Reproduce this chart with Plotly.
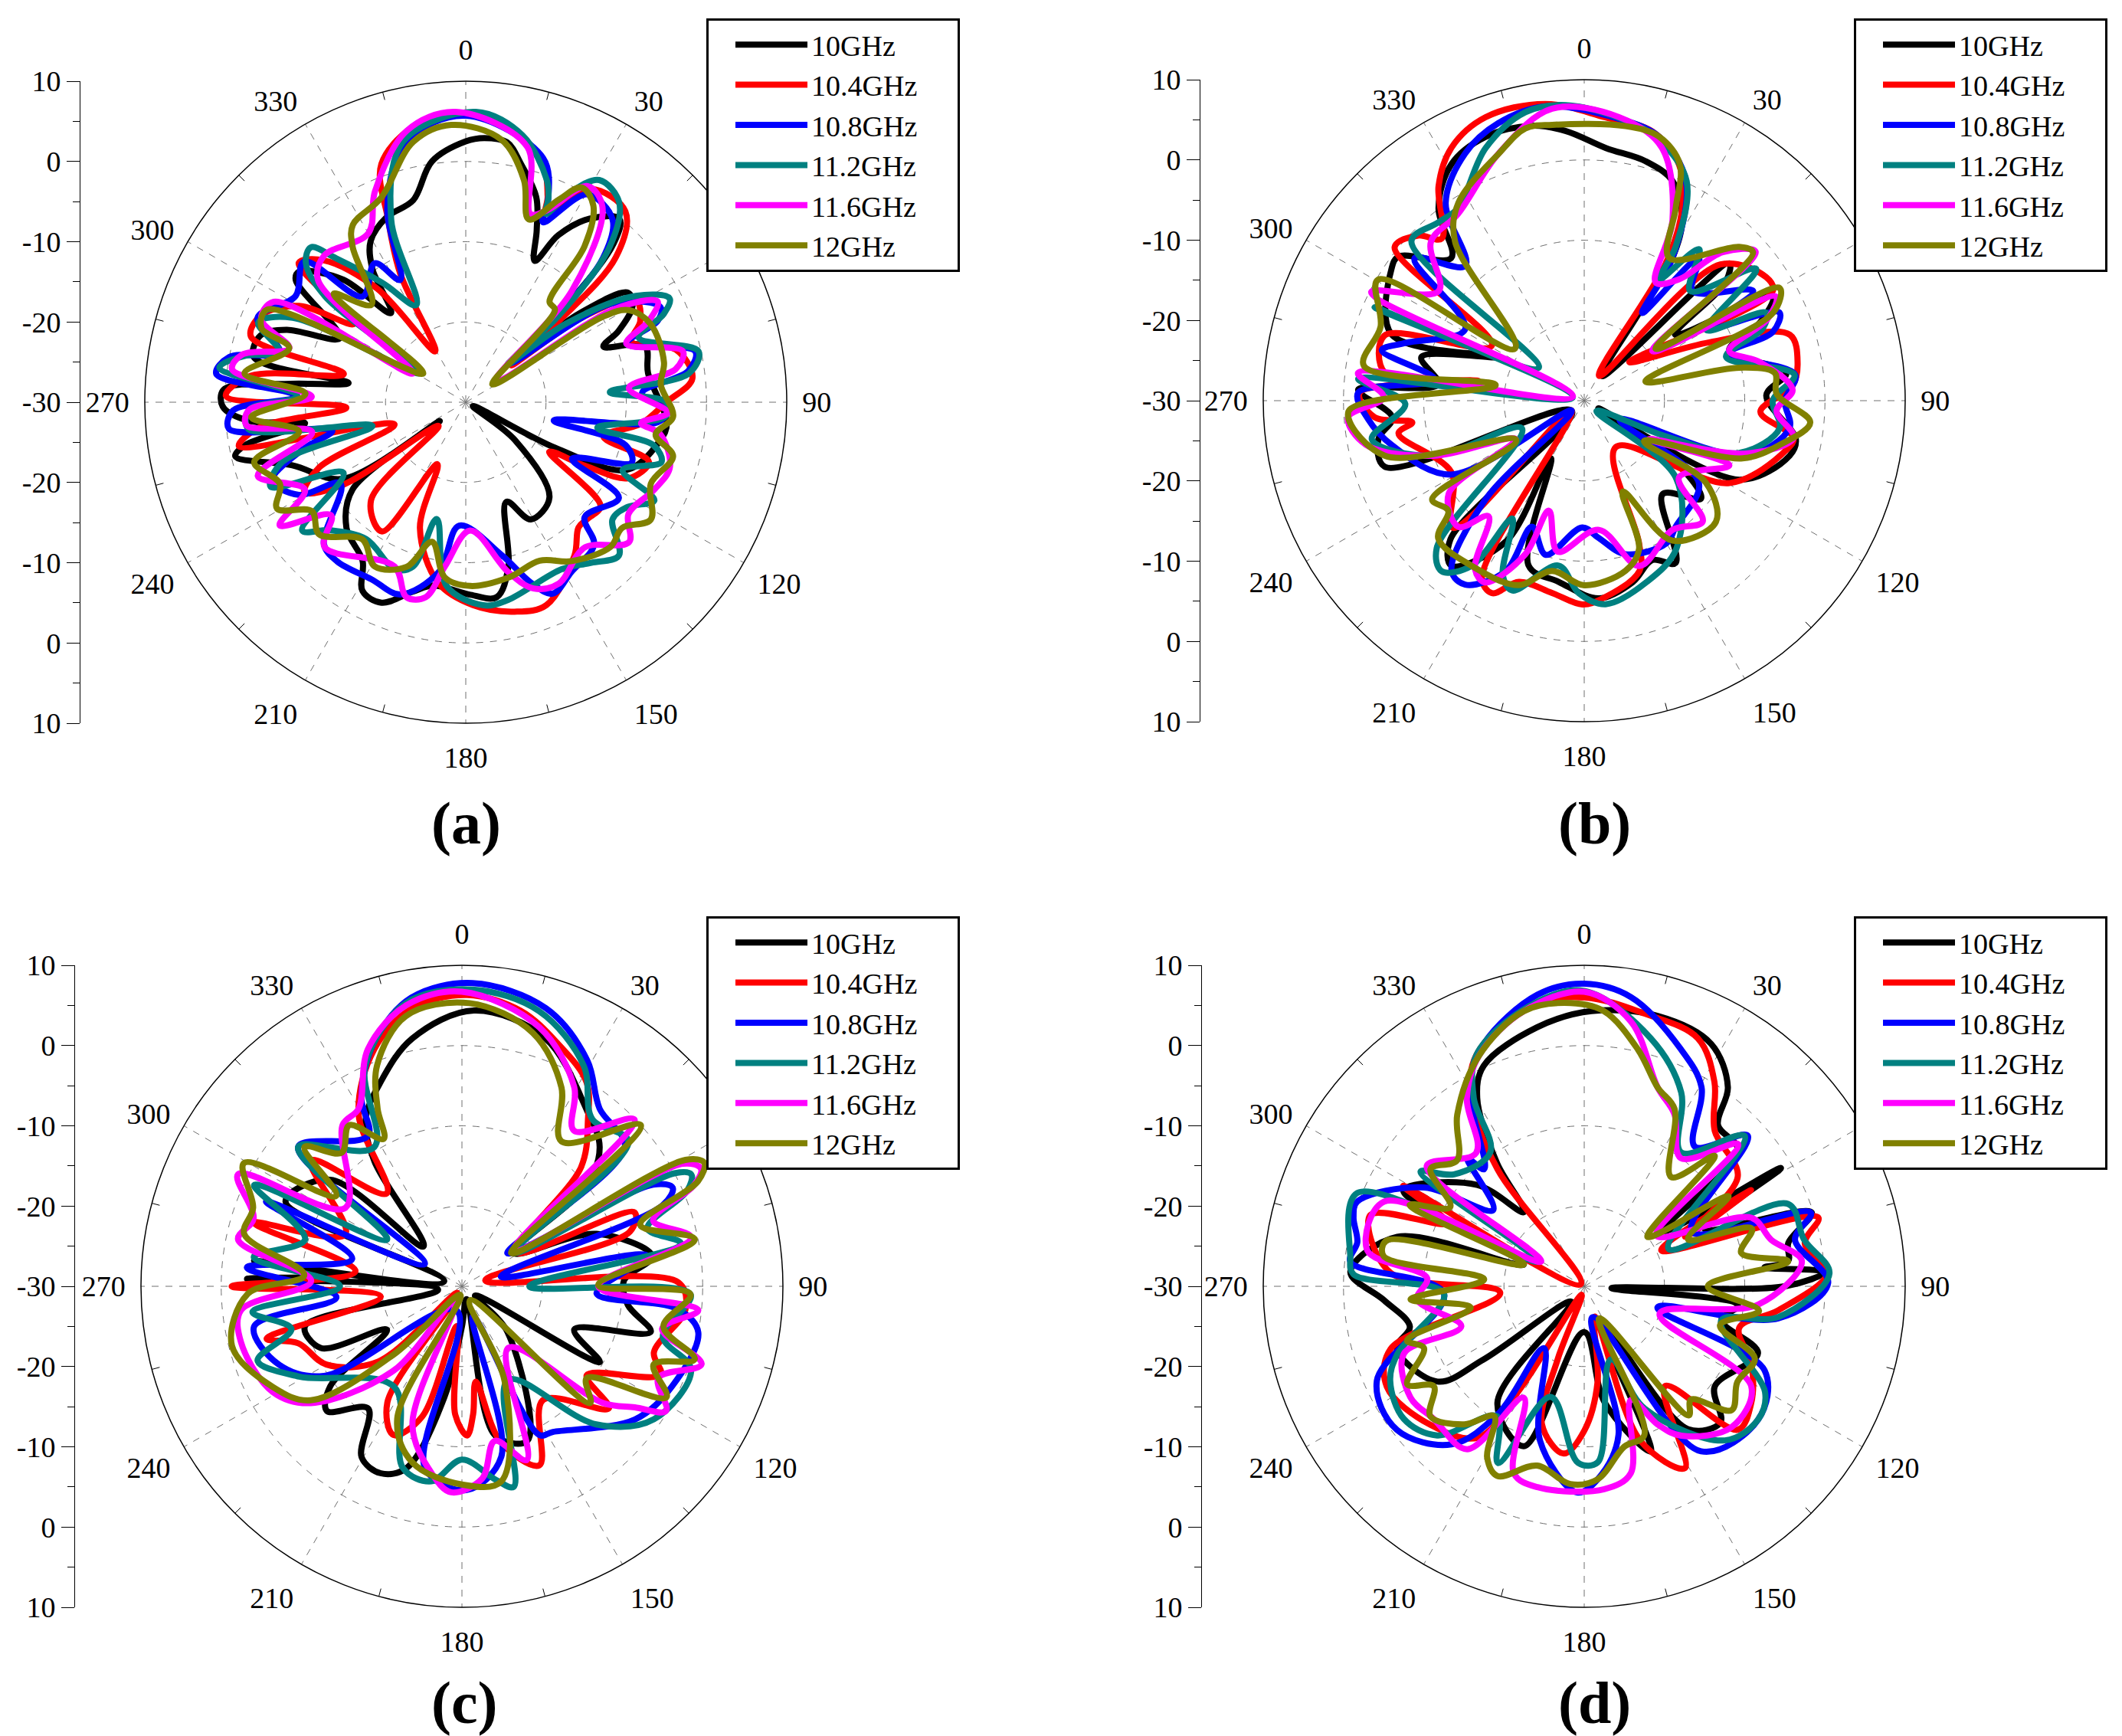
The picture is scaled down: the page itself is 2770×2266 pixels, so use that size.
import plotly.graph_objects as go

W, H = 2770, 2266
PAGE_MARGIN = 8
SERIES = ["10GHz", "10.4GHz", "10.8GHz", "11.2GHz", "11.6GHz", "12GHz"]
COLORS = ["#000000", "#FF0000", "#0000FF", "#008080", "#FF00FF", "#808000"]
ANGLE_TICKS = list(range(0, 360, 30))
ANGLE_MINOR = list(range(15, 360, 30))
RADIAL_GRID = [-20, -10, 0]
SCALE_VALUES = [-40, -30, -20, -10, 0, 10, 20, 30, 40]
SCALE_TEXT = ["10", "0", "-10", "-20", "-30", "-20", "-10", "0", "10"]

# (angle in degrees, gain in dB)
A_10 = [(4,3),(9,2.8),(13,.5),(19,-3),(22.4,-6.8),(26,-10.4),(29,-6.2),(34,-2.4),(40,-.2),(43,-3),(46,-12),(49,-21),(52,-12),(56,-5.6),(60,-6),(65,-9),(68,-11.5),(72.6,-6.6),(81,-7),(96,-4.8),(101,-5.3),(112.7,-8.2),(117,-17.5),(118.5,-29),(127.6,-22.3),(138.7,-14.2),(151,-13.3),(157.8,-16.6),(165.5,-8.8),(171,-5.4),(178.6,-6),(190,-6.8),(195.6,-5.5),(202.8,-2.9),(208.7,-3.2),(213,-6.4),(223.5,-8.4),(232.4,-12.2),(234,-26),(238,-12),(250,-7),(256.8,-.5),(259,-2),(262.6,-9.8),(265,-3),(269,.3),(273,.2),(276,-8),(279.3,-15.2),(282,-3),(288,-3.1),(292,-5.9),(297,-12.4),(305.7,-3.9),(308,-3.6),(315,-8.4),(320,-15.5),(325,-9.7),(329.4,-6.7),(337,-4.9),(345.4,-4),(352,.3),(360,2.5)]
A_104 = [(3,6),(17,1.8),(21.7,-2.4),(23,-4.4),(30.4,.8),(39.9,1),(46,-4),(49,-15),(51,-22.7),(54,-12),(58.7,-5.3),(65,-6),(70,-8),(76,-3),(84,-1.6),(90,-5),(97,-8),(104,-12.3),(108,-6),(115,-7.6),(118,-13),(120.7,-17.9),(127.6,-8.8),(134,-9),(138,-9),(144.6,-6.6),(158.3,-2.8),(166.9,-3.2),(178,-4.7),(188.6,-7.2),(200,-13.3),(204.6,-21.5),(213,-10.8),(224,-13),(229,-25.5),(236,-11.7),(240.8,-7),(246,-10),(252.8,-20.7),(259,-1.2),(263,-4),(267.4,-15.1),(271.5,-.1),(277,-3),(283,-14.4),(287,-2),(293,-2.3),(300,-6),(305,-13),(309.8,-2.9),(315,-5),(322,-12),(329,-22.6),(333,-12),(337,-5.2),(340.5,1.5),(350.6,5.3),(360,5.8)]
A_108 = [(0,5.7),(17.6,1.9),(22.3,-3),(23.2,-5.6),(30.3,0),(38.8,-.8),(43.6,-5.2),(46.5,-14),(49,-22.5),(56,-8),(64,-3),(67,-4),(70,-8.7),(77.5,-.7),(82,-2),(87,-8),(92.7,-4.9),(96,-6),(101.7,-18.8),(105,-9.4),(110,-8),(118,-15),(122,-7.5),(134,-9.4),(138,-6.1),(148,-5.1),(155.6,-3.8),(160,-6),(166.7,-10.4),(183,-14.6),(189,-8.6),(198.8,-4.7),(208,-5),(219,-4.5),(225,-5),(237,-11.4),(241,-6.2),(248,-4),(254,-9),(258,-13),(263.6,-.3),(268,-1),(272,-9),(276.5,1.3),(280.8,0),(285,-6),(292,-2),(302,-5),(311,-3.3),(315.7,-11.6),(326.8,-9.3),(331.8,-12.7),(338,-3.9),(347,3.3)]
A_112 = [(2,6.2),(12,4),(20,-.5),(22,-2.5),(23,-4.5),(26.7,-.6),(31,2.3),(37.5,1.4),(42.8,-3.6),(47,-14),(48,-23),(52,-14),(58,-5),(63,-1.5),(66,-3),(69.5,-7),(77.7,-.3),(82.7,-2),(86,-12),(90,-5),(94,-5),(101,-13.3),(102.9,-6),(107,-4.5),(113.4,-8.7),(117.5,-3.5),(123,-6),(128.6,-6.6),(135,-3),(142,-4.6),(150,-6),(168,-4.8),(175,-4.6),(186,-7),(194,-15),(197.8,-8.5),(203,-7.4),(216,-8.9),(226.5,-6.8),(231.9,-4.1),(240,-12.4),(246.6,-3.5),(252,-6),(255.8,-18),(263,-2.7),(268,-3),(272,-9),(278,1),(282,-2),(285,-6),(291,-2.3),(296,-6),(302,-23.2),(307,-8),(311,-3.6),(315,-2.7),(318,-5.9),(325,-11.8),(333,-16.4),(337.8,-5.4),(346.5,3.4)]
A_116 = [(358,6.2),(13.6,2.7),(19,-5.2),(23,-4),(29.4,.9),(35,-.3),(43.6,-10.8),(55,-25.5),(58,-8),(62.3,-3),(66,-5),(70,-8.7),(76.8,-2.2),(81,-3.5),(85,-9.6),(93,-4.8),(96.8,-8),(99.4,-5.4),(107.7,-3.3),(114.8,-4.1),(124.5,-5.4),(130.6,-3.2),(140.7,-6.6),(152.8,-4.6),(160,-5.3),(166,-8.2),(178,-14),(187.2,-9.4),(191.6,-5.2),(196.9,-4.6),(203.5,-7.7),(224.3,-4.8),(230,-8.1),(236.5,-2.2),(241.5,-7.2),(250.5,-2.5),(259,-10.5),(264,-2.5),(268,-3),(272,-10.8),(278,-.6),(282,-1.5),(287,-7),(292,-2.5),(297.6,-3),(298.5,-22.5),(309.6,-6.1),(316,-4.6),(330,-5.7),(336.7,-1.4),(347.7,4.6)]
A_12 = [(357,4.6),(7.8,3),(14.7,-1.4),(19,-5.9),(24.7,-2.2),(28.3,.4),(33,-.8),(37.3,-5.6),(39.8,-13.7),(44,-14),(56,-26),(58,-10),(60.5,-6.7),(67,-5),(78.6,-4.8),(84.8,-5.6),(94,-4.1),(99.7,-6),(104.6,-3.3),(113.8,-4.8),(122.4,-2.7),(128.8,-5),(135,-4.5),(146.3,-6.2),(155,-8.2),(166.4,-7.5),(178.6,-7.1),(186.8,-8),(193.6,-12.1),(199.8,-8.2),(209,-6.6),(217,-8.6),(228,-5.4),(234.7,-6.5),(240.6,-3),(246.3,-4.7),(254.2,-2.6),(260,-8.9),(266,-3.2),(273,-10),(277.4,-2.2),(287,-7),(290,-2.9),(295,-2.7),(304,-23.6),(309.4,-8.7),(316,-13.1),(324,-6),(327.5,-3.8),(337.6,-2.4),(348.6,3.1)]

B_10 = [(356,3.7),(4.9,1.6),(14.4,.8),(21.9,-.5),(28.4,-4.3),(31.7,-9.1),(32,-17.1),(36,-26.2),(46.6,-5.1),(50,-7),(54,-16),(61,-3.1),(66,-6),(71,-10.9),(82.2,-4.6),(88.3,-7.3),(100.3,-3.2),(105,-3.5),(117,-8.3),(119,-28),(125,-15),(130,-11),(140,-14.8),(150.6,-6.8),(156.9,-8.4),(165,-6.6),(175.7,-5.3),(188,-7.2),(198.6,-8.3),(210,-21.7),(209,-10),(218.8,-3.6),(224,-6),(230,-28),(251.7,-3.8),(259.4,-3.9),(265,-6),(272.8,-1.8),(276.4,-11.7),(285,-9),(297,-18),(289,-4.6),(304.4,-.9),(307.8,-.7),(317,-5.7),(322.9,.1),(330.7,3.8),(339.5,5.1),(349,4.9)]
B_104 = [(352.5,7.3),(4.3,5.4),(14.2,4.6),(21.9,1.7),(27,-3.1),(30.7,-10),(31,-26.4),(45,-6),(55.8,-2.6),(59.8,-2.8),(49.4,-22.6),(65,-12.8),(72.2,-3.1),(80,-3),(86,-4),(93.6,-8),(100,-3.5),(103.8,-4.1),(119.6,-9.2),(146,-23),(159,-10.9),(162,-7.7),(175,-5.2),(180.5,-4.6),(189.5,-5.7),(199.8,-6),(205.6,-3.4),(210,-4.5),(232,-28),(226,-7.2),(241.6,-11.2),(260,-6.5),(262.8,-8.4),(265.5,-3.8),(272,-2),(280.5,-16.6),(278,-4.9),(288,-3.8),(300.7,-16.6),(309,.4),(314.8,-.8),(318.7,-3.1),(325.8,2.3),(332.3,5.6),(340.8,7.4)]
B_108 = [(352.5,7),(5,5.6),(15.8,4.2),(24.8,.2),(31.7,-9),(33.5,-16.9),(38.8,-7.2),(44.7,-10.8),(57,-4.9),(59.6,-12.4),(65.7,-3.3),(70,-5),(72,-11),(83,-3.5),(90,-5),(97.6,-4.2),(108.7,-8.7),(118,-25),(125.7,-12.4),(144,-10.6),(150,-9.5),(165,-10.2),(174,-12.8),(180.9,-14.2),(194,-10.2),(202.5,-13),(204.8,-6.6),(212.9,-2.7),(217.9,-3.1),(225,-12.6),(232,-28),(241,-11),(257,-5.4),(265,-3),(272,-1.8),(278,-11.2),(284,-4),(287.9,-6.6),(301,-12.7),(310,-2.4),(318.6,-7.6),(325,.1),(334.3,4.2),(342.8,6.2)]
B_112 = [(356.4,6.9),(8.4,5.3),(16,3.8),(25,.2),(30.7,-7.7),(31.7,-12.3),(37.2,-6.3),(44,-11),(52.5,-3),(60,-12.4),(64.2,-4.8),(68,-6),(72.8,-11.5),(83,-3.6),(90,-6.5),(98,-5.4),(108.6,-9.6),(113.6,-18.9),(130,-28),(130,-15.1),(148,-8.3),(161,-6.1),(174,-4.5),(181.6,-6),(188.8,-9.2),(200.8,-4.7),(205,-6),(211.4,-12.8),(214.3,-5.1),(219.9,-2.3),(225,-4),(246,-21.5),(250,-9.9),(259.7,-3.1),(269,-7.7),(275.5,-1.7),(285,-28.5),(294,-1.4),(306,-23),(312.7,-.7),(320.8,-1.3),(326.8,-1.3),(338.7,3.8),(348.5,6.7)]
B_116 = [(353.7,6.6),(7,5.6),(17,3),(26,-4.9),(31.2,-12.8),(38,-10.8),(43,-4.7),(49,-1.7),(54,-19.5),(61.5,-2.8),(66,-5),(71,-10.9),(77.6,-7.6),(87,-4),(93,-6),(100,-3.5),(108,-8.7),(120.7,-20.6),(114,-10.2),(129,-14.8),(135.6,-8.9),(145.6,-10.5),(161.6,-8.3),(173.5,-13.8),(190,-10.9),(197.8,-15.6),(201,-9.5),(208.6,-4.2),(213,-5),(219.6,-11.3),(224.9,-7.8),(235.5,-9.5),(240.8,-20.2),(250,-9.9),(258.7,-2.2),(266,-.5),(271,-5),(277,-1.6),(290,-28.5),(297,-.2),(307,-7.3),(316,-2.5),(326,-1.9),(340.9,2.6)]
B_12 = [(353.4,4.6),(8.6,4.6),(15.8,4.2),(22,1.8),(25.4,-3.4),(30.8,-9.3),(45.2,-2.8),(48.7,-2),(54,-19),(60,-1.9),(65,-4),(72.6,-22),(78,-10.2),(81.7,-6),(88,-6),(95.5,-1.7),(102.7,-5),(110,-9),(124,-21),(124,-11.7),(132.6,-7.7),(147.8,-9.4),(157,-17.7),(159.7,-10.3),(166.3,-8.2),(180,-7),(190.7,-8.4),(199.6,-5.6),(214,-5.1),(226.7,-5),(231,-8.2),(237,-7.4),(240,-20.2),(254.6,-4.2),(267.4,-.6),(280,-18.8),(279,-2.2),(290,-3),(300.4,-.2),(307,-19.2),(321,-4.4),(327.5,-.8),(341,2.6),(347.8,4.7)]

C_10 = [(2.5,4.4),(18.6,2.6),(35,-3),(44.7,-5.6),(51,-10),(57.5,-22.3),(68.7,-12),(81,-6),(88,-9.8),(96.4,-9.2),(103.6,-5.8),(111,-15),(118.8,-10.4),(125,-28),(135,-22),(157,-9.1),(167.5,-11),(160,-28.3),(180,-25),(189,-16),(197,-6.3),(203.5,-4.6),(210.4,-5.3),(217.5,-10.8),(227.3,-7.1),(232.8,-9.4),(240,-19.2),(246.4,-10.8),(255.7,-9.8),(262,-27),(272,-3.2),(275,-14.3),(277,-3.9),(286,-27.7),(295.7,-5.6),(309,-8.9),(316,-23.1),(325,-11),(330,-6),(338.3,-2.6),(348.7,1.5)]
C_104 = [(1,6.3),(12,5.1),(21.6,2.5),(31.4,-.2),(37,-3.9),(45,-9),(58,-22),(66.8,-6.6),(72,-8),(76,-27),(89,-3),(96,-2),(109,-4.7),(114,-2.9),(125.5,-10.9),(129.7,-6.2),(144.6,-12.6),(156.6,-5.7),(166,-10),(171.7,-18),(175,-14),(178,-11.4),(183,-14),(187,-25),(197,-13),(204.7,-9.6),(212.7,-12.8),(214,-29),(228,-16),(240,-10.5),(250.8,-8.4),(255,-4.8),(262.8,-19.8),(270,-1.3),(278,-16.6),(287,-2.9),(294,-14.1),(309.8,-5.5),(321,-15.1),(329,-5),(339.7,1.5),(349.9,5.2)]
C_108 = [(2,7.8),(16.8,6.2),(29,2.2),(37.8,-2),(49.5,-3.3),(54,-23),(62,-3),(64.9,-1),(68,-3),(76,-25),(80.6,-6.6),(93,-13.2),(96,-3),(101,0),(115.4,-1),(127.6,-2.8),(148,-8.6),(152.5,-9.1),(160,-26),(167,-8.2),(178.8,-4.6),(191.5,-6.9),(192,-26.9),(237,-9.5),(246.8,-5.2),(259,-3.6),(265,-14.3),(275,-3.1),(284,-15.9),(293.4,-3.4),(301,-24.6),(310.4,-3.2),(328,-7.9),(331.9,-3.4),(340,2.2),(350,6.5)]
C_112 = [(2,7),(15.7,5.6),(28.9,1.4),(38,-3.6),(49,-2.5),(57,-22.3),(62,0),(64,1.8),(67,.5),(72.7,-5.8),(78.9,-2.2),(90,-21.6),(92,-1.5),(104,-4.2),(110,.4),(124.7,-.9),(135.8,-6),(154,-17),(165.5,-4.2),(170,-5.5),(180,-8.4),(188.9,-5.4),(198,-6.2),(214,-14.9),(241,-6.8),(250,-2.9),(256,-8.1),(263,-3.7),(270,-14.8),(278,-3.8),(286.6,-9.6),(296,-1.2),(302,-19),(310.4,-3.2),(327.8,-9.5),(336.3,0),(348.9,6)]
C_116 = [(0,6.7),(16.6,3.7),(29.4,-1.5),(35.8,-6.1),(46,-.1),(55,-22),(61,1.5),(63.8,3.2),(66.5,1.5),(71,-4.8),(78,-.8),(90,-13),(95.8,-.4),(102,-4.5),(108,1.4),(115,-3),(121.4,-.2),(125,-3.7),(129.6,-7.2),(143,-20.4),(159.5,-6.9),(168,-10.3),(174,-5.9),(183,-4.3),(189.2,-6.4),(199.7,-11.7),(205,-28),(219,-16.5),(232.3,-6.2),(240.8,-3),(255.7,-1.6),(263.8,-2.3),(272,-11.2),(281.8,-1.5),(288,-2.7),(296.6,1.2),(304,-12.5),(323.5,-5),(329.8,-4.4),(338.4,1.8),(348.8,5.7)]
C_12 = [(1.5,5.3),(15.6,2.8),(26.6,-2.3),(34.5,-8.1),(48,0),(56,-22.6),(60.5,2),(63,3.9),(66,2.2),(71,-6.5),(78.6,-.4),(89.5,-13),(92,-1.5),(101.3,-4.4),(107.4,.4),(112.2,-4.2),(118.5,-1),(126.3,-10.7),(132.3,-8.4),(150,-28),(155.8,-17),(168.6,-5.2),(180,-5.3),(195.7,-7.2),(206,-11.6),(190,-28.9),(225,-18),(233,-6.4),(242,-3.3),(255.5,-.4),(268,-3.3),(274,-10.3),(283.5,-2.1),(290.6,-2.2),(299.5,1.2),(305.7,-10.7),(311.5,-3.8),(318,-7.6),(325,-5.5),(332,-9.2),(334.6,-5.5),(339,-.5),(348.3,4.4)]

D_10 = [(1.5,4.3),(15.2,4.9),(27.6,4.1),(35.8,.6),(39.7,-3.9),(48.4,-4.4),(55,-18),(59,-1.4),(64.4,-13.4),(72,-.2),(78,-4),(83,-4.4),(84,-7.4),(86.6,0),(90,-5),(94,-26.6),(97,-10.7),(104,-12.4),(111,-6.8),(127.5,-9.5),(135,-6),(144,-8),(155,-25),(158,-7.8),(170,-15.3),(180,-24.3),(200.7,-8.7),(216.7,-11.9),(220,-27.5),(234,-14.5),(237,-8.2),(251.7,-5.4),(257,-7.7),(266,-5),(273.5,-.8),(284.8,-5.9),(290,-22),(297.9,-4.5),(313.4,-11.6),(320.9,-18.1),(324.7,-11.2),(330.4,-3),(335.5,.2),(349.7,2.8)]
D_104 = [(0,6),(12.5,4.8),(24.6,4),(32.5,.2),(40,-4.7),(54.5,-6.5),(63.8,-16),(60,-6),(65,-19.4),(73.6,.4),(79,-2),(86.7,.4),(97,-5.6),(105,-10),(115,-7),(125,-4.6),(133,-3.8),(141,-14),(151,-4.1),(160,-9.5),(161,-26),(172,-18),(180,-12),(187,-9),(197,-12),(200,-20.4),(197,-28.9),(212,-15),(215,-7),(228,-4.2),(243,-2.4),(252,-4.6),(265.6,-19.5),(274,-5.8),(288.4,-1.9),(294.7,-11.2),(299,-4.2),(300,-29.5),(323.5,-11.8),(329,-2.6),(335,1.8),(349,5.6)]
D_108 = [(0,7.7),(9.2,6.5),(22.2,1.9),(30.5,-1.2),(38.4,-7.8),(47.4,-2.3),(63,-15),(72,-.3),(77.5,-3.1),(89.2,.4),(99.4,-5.5),(106,-20.5),(115,-5.2),(127.4,-2.7),(144.7,-4.8),(165,-26),(167,-11),(176,-5.9),(182,-4.3),(196,-10),(213,-20.8),(214,-10.8),(220,-4.3),(232.5,-.6),(245.5,-1.6),(267,-12.5),(276,-.7),(281,-1.2),(286.6,0),(290.4,.2),(301.6,-6.5),(310,-15.2),(317.6,-8.4),(319.5,-10.8),(330,-1.4),(337.5,2.7),(350.9,6.8)]
D_112 = [(0,6.8),(15,2),(26.6,-3),(35.9,-9.4),(46.9,-2.6),(66,-18.5),(68,-2.6),(78,-2),(87,.6),(99,-5.5),(104,-12.4),(120.3,-3.9),(127.4,-2.7),(137.6,-4),(153.7,-13),(160,-20.3),(175.6,-8),(182,-8),(196.8,-15.6),(206,-5.5),(213.8,-10.5),(224.6,-3.9),(233.7,-2.1),(244,-3.1),(250,-5.2),(267,-12.5),(273,-1.2),(277.4,-.6),(292.3,.6),(298,-23.4),(305,-5.1),(310.7,-8.6),(325,-9.6),(329.6,-2.8),(335,1.8),(349,5.6)]
D_116 = [(0,6.7),(10,3.5),(20.3,-3.6),(27.7,-5.8),(37,-10),(47.3,-3.9),(55,-19),(67.7,-7.5),(76,-6),(83.4,-2.7),(96,-8.2),(110,-20),(121,-5.7),(133.8,-4.6),(147,-7.8),(152,-10.5),(157.6,-14.7),(166,-6),(174.4,-4.6),(193.1,-4.3),(200.6,-5.1),(208.5,-14.2),(215.7,-5),(228.6,-5),(237.4,-4.3),(249.5,-6),(252,-13.9),(265.5,-9.1),(273,-10.4),(279.4,-2.6),(292.9,-2.9),(300,-23.8),(307.4,-5.3),(321,-8.6),(328,-2.4),(335.5,1.6),(347.6,5.1)]
D_12 = [(356,5.4),(4,4.4),(12.7,.3),(20.3,-3.6),(27,-5.2),(38.5,-12.6),(45,-7),(52,-20),(58,-8.8),(65.7,-15.8),(71,-7.9),(78,-10),(83,-4.4),(90,-14.6),(98,-8),(106,-12.4),(113,-6.9),(122,-7.5),(130,-6),(136.7,-10.6),(141,-9.3),(155,-25.6),(158,-10),(166,-9.4),(176,-5.9),(184,-5.3),(194.7,-6.9),(204.6,-4),(209.6,-5.5),(214.7,-10.3),(221,-7.2),(229.8,-4.9),(236.4,-7.5),(241,-4.8),(248.9,-8.6),(253,-6.9),(259.4,-15.6),(265.7,-8.3),(274,-17.5),(278.6,-4.7),(283,-4.7),(290,-22),(295,-6),(300.6,-10.6),(307.4,-5.9),(314.7,-7.7),(323.5,-3.4),(335.5,1.6),(347.6,5.1)]

PANEL_DATA = [
    [A_10, A_104, A_108, A_112, A_116, A_12],
    [B_10, B_104, B_108, B_112, B_116, B_12],
    [C_10, C_104, C_108, C_112, C_116, C_12],
    [D_10, D_104, D_108, D_112, D_116, D_12],
]
PANEL_LABELS = ["(a)", "(b)", "(c)", "(d)"]
# pixel layout: circle centre x, centre y, left scale x, legend left, legend top, label x, label y
R = 419
PANEL_BOX = [
    (608, 525, 105, 922, 24, 608, 1074),
    (2068, 523, 1567, 2420, 24, 2081, 1074),
    (603, 1679, 98, 922, 1196, 606, 2222),
    (2068, 1679, 1569, 2420, 1196, 2081, 2222),
]
FONT = "Liberation Serif"
LEGEND_PAD = "\u00a0" * 5


def fx(px):
    return (px - PAGE_MARGIN) / W


def fy(py):
    return 1 - (py - PAGE_MARGIN) / H


fig = go.Figure()
layout = dict(width=W, height=H, margin=dict(l=0, r=0, t=0, b=0, autoexpand=False),
              paper_bgcolor="white", plot_bgcolor="rgba(0,0,0,0)",
              font=dict(family=FONT, size=38, color="black"), annotations=[])

for i, (box, curves) in enumerate(zip(PANEL_BOX, PANEL_DATA)):
    n = "" if i == 0 else str(i + 1)
    cx, cy, ax_x, lx, ly, tx, ty = box
    polar_name, legend_name = "polar" + n, "legend" + n
    mt, mr = [], []
    for a in ANGLE_MINOR:
        mt += [a, a, None]
        mr += [10, 9, None]
    fig.add_trace(go.Scatterpolar(theta=mt, r=mr, mode="lines", subplot=polar_name,
                                  line=dict(color="black", width=1), showlegend=False, hoverinfo="skip"))
    for name, color, pts in zip(SERIES, COLORS, curves):
        closed = pts + [pts[0]]
        fig.add_trace(go.Scatterpolar(theta=[p[0] for p in closed], r=[p[1] for p in closed],
                                      mode="lines", name=name + LEGEND_PAD, subplot=polar_name, legend=legend_name,
                                      line=dict(color=color, width=8, shape="spline", smoothing=1.0)))
    layout[polar_name] = dict(
        domain=dict(x=[fx(cx - R), fx(cx + R)], y=[fy(cy + R), fy(cy - R)]),
        bgcolor="rgba(0,0,0,0)",
        angularaxis=dict(direction="clockwise", rotation=90, tickvals=ANGLE_TICKS,
                         ticktext=[str(a) for a in ANGLE_TICKS], ticks="outside", ticklen=12,
                         tickcolor="rgba(0,0,0,0)", showline=True,
                         linecolor="black", linewidth=1.5, gridcolor="#707070", griddash="dash", gridwidth=1,
                         tickfont=dict(family=FONT, size=38, color="black")),
        radialaxis=dict(range=[-30, 10], tickvals=RADIAL_GRID, showticklabels=False, ticks="",
                        showline=False, gridcolor="#707070", griddash="dash", gridwidth=1),
    )
    layout[legend_name] = dict(
        x=fx(lx), y=fy(ly), xanchor="left", yanchor="top", bgcolor="white",
        bordercolor="black", borderwidth=3, indentation=30, itemwidth=94,
        tracegroupgap=0, traceorder="normal",
        font=dict(family=FONT, size=38, color="black"))
    xa, ya = "xaxis" + n, "yaxis" + n
    xr, yr = "x" + n, "y" + n
    fig.add_trace(go.Scatter(x=[None], y=[None], xaxis=xr, yaxis=yr, showlegend=False, hoverinfo="skip"))
    layout[xa] = dict(domain=[fx(ax_x), fx(ax_x + 2)], visible=False, anchor=yr, fixedrange=True)
    layout[ya] = dict(domain=[fy(cy + R), fy(cy - R)], anchor=xr, range=[-40, 40],
                      tickvals=SCALE_VALUES, ticktext=SCALE_TEXT, ticks="outside", ticklen=17, tickwidth=1,
                      tickcolor="black", showline=True, linecolor="black", linewidth=1, showgrid=False,
                      zeroline=False, tickfont=dict(family=FONT, size=38, color="black"),
                      minor=dict(dtick=5, ticks="outside", ticklen=9, tickwidth=1, tickcolor="black", showgrid=False))
    layout["annotations"].append(dict(text="<b>%s</b>" % PANEL_LABELS[i], x=fx(tx), y=fy(ty),
                                      xref="paper", yref="paper", showarrow=False, xanchor="center", yanchor="middle",
                                      font=dict(family=FONT, size=78, color="black")))

fig.update_layout(**layout)
fig.write_html("out.html")
